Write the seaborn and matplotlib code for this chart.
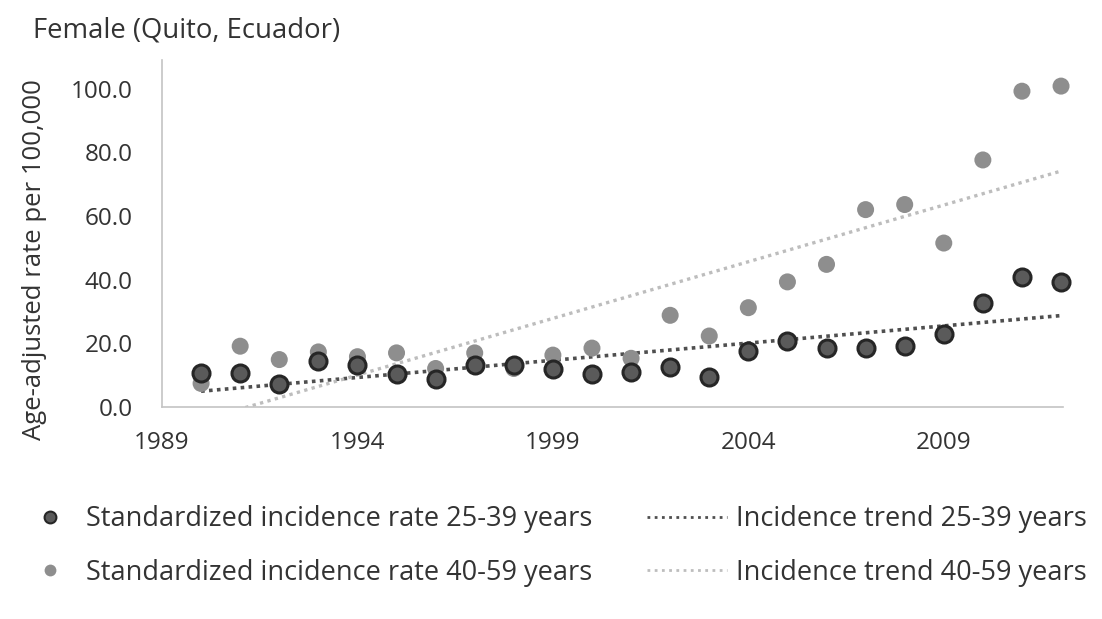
import numpy as np
import pandas as pd
import matplotlib
matplotlib.use("Agg")
import matplotlib.pyplot as plt
from matplotlib.lines import Line2D
import seaborn as sns

years = list(range(1990, 2013))
rate_25_39 = [10.6, 10.8, 7.2, 14.5, 13.2, 10.3, 8.7, 13.2, 13.2, 11.8, 10.3,
              11.1, 12.6, 9.5, 17.7, 20.8, 18.4, 18.4, 19.2, 22.9, 32.7, 40.8, 39.3]
rate_40_59 = [7.4, 19.1, 14.9, 17.3, 15.8, 17.0, 12.1, 17.0, 12.1, 16.3, 18.5,
              15.3, 28.8, 22.3, 31.2, 39.3, 44.8, 62.0, 63.6, 51.5, 77.6, 99.2, 100.8]
x_ticks = [1989, 1994, 1999, 2004, 2009]
y_ticks = [0, 20, 40, 60, 80, 100]

df = pd.DataFrame({"year": years, "young": rate_25_39, "older": rate_40_59})

sns.set_theme(style="white")
plt.rcParams["font.family"] = ["Open Sans", "DejaVu Sans"]

W, H = 1102, 619
fig = plt.figure(figsize=(W / 100, H / 100), dpi=100)
ax = fig.add_axes([162 / W, 1 - 407 / H, 901 / W, 347 / H])

text_col = "#333333"
dark_fill, dark_edge = "#5a5a5a", "#262626"
grey_pt = "#8e8e8e"
dark_trend = dict(color="#4f4f4f", lw=2.6, linestyle=(0, (1, 1.2)))
light_trend = dict(color="#bdbdbd", lw=2.4, linestyle=(0, (1, 1.3)))

# Linear trend lines
sns.regplot(data=df, x="year", y="young", ax=ax, scatter=False, ci=None,
            line_kws=dark_trend)
sns.regplot(data=df, x="year", y="older", ax=ax, scatter=False, ci=None,
            line_kws=light_trend)

# Annual standardized rates
sns.scatterplot(data=df, x="year", y="young", ax=ax, s=150, color=dark_fill,
                edgecolor=dark_edge, linewidth=2.2, zorder=4, clip_on=False)
sns.scatterplot(data=df, x="year", y="older", ax=ax, s=150, color=grey_pt,
                edgecolor="none", linewidth=0, zorder=3, clip_on=False)

ax.set_xlim(1989, 2012.05)
ax.set_ylim(0, 109)
ax.set_xticks(x_ticks)
ax.set_yticks(y_ticks)
ax.set_yticklabels([f"{v:.1f}" for v in y_ticks])
ax.tick_params(axis="both", length=0, labelsize=17.5, colors=text_col)
ax.tick_params(axis="y", pad=21)
ax.tick_params(axis="x", pad=17)
ax.set_xlabel("")
ax.set_ylabel("Age-adjusted rate per 100,000", fontsize=18.5, color=text_col)
ax.yaxis.set_label_coords(-0.128, 0.424)
for side in ("top", "right"):
    ax.spines[side].set_visible(False)
for side in ("left", "bottom"):
    ax.spines[side].set_color("#c4c4c4")
    ax.spines[side].set_linewidth(1.2)

fig.text(33 / W, 1 - 30 / H, "Female (Quito, Ecuador)", fontsize=19.8,
         color=text_col, va="center", ha="left")

fs = 19.5
legend_style = dict(loc="center left", frameon=False, fontsize=fs,
                    labelspacing=0.95, borderpad=0, borderaxespad=0,
                    labelcolor=text_col)

point_handles = [
    Line2D([], [], marker="o", linestyle="none", markersize=8.5,
           markerfacecolor=dark_fill, markeredgecolor=dark_edge, markeredgewidth=1.5),
    Line2D([], [], marker="o", linestyle="none", markersize=8.5,
           markerfacecolor=grey_pt, markeredgecolor="none"),
]
point_labels = ["Standardized incidence rate 25-39 years",
                "Standardized incidence rate 40-59 years"]
trend_handles = [
    Line2D([], [], color="#4f4f4f", lw=2.0, linestyle=(0, (1, 1.6))),
    Line2D([], [], color="#bdbdbd", lw=2.0, linestyle=(0, (1, 1.6))),
]
trend_labels = ["Incidence trend 25-39 years", "Incidence trend 40-59 years"]

leg1 = fig.legend(point_handles, point_labels, bbox_to_anchor=(40 / W, 1 - 546 / H),
                  handlelength=0.75, handletextpad=0.95, **legend_style)
leg2 = fig.legend(trend_handles, trend_labels, bbox_to_anchor=(647 / W, 1 - 546 / H),
                  handlelength=2.95, handletextpad=0.33, **legend_style)

fig.savefig("out.png", dpi=100)
